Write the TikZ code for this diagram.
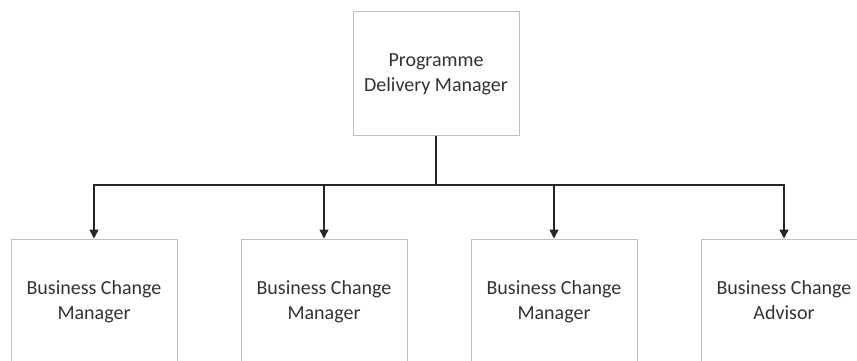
\documentclass[tikz,border=0pt]{standalone}
\usepackage{fontspec}
\setmainfont{Carlito}
\usetikzlibrary{arrows.meta}
\definecolor{boxline}{HTML}{BFBFBF}
\definecolor{linkline}{HTML}{262626}
\definecolor{labeltext}{HTML}{333333}
\begin{document}
\begin{tikzpicture}[x=1pt,y=-1pt,
  role/.style={draw=boxline, line width=1pt, fill=white, inner sep=0pt,
    minimum width=166pt, minimum height=124pt},
  rolename/.style={inner sep=0pt, align=center, text=labeltext,
    font=\fontsize{20}{25}\selectfont},
  link/.style={draw=linkline, line width=1.4pt},
  arr/.style={link, -{Triangle[length=9pt,width=9pt]}}]
\useasboundingbox (0,0) rectangle (857,360);
\clip (0,0) rectangle (857,360);
% head of the programme
\node[role] (pdm) at (436,73) {};
\node[rolename] (pdmname) at ([yshift=-3pt]pdm.center) {Programme\\Delivery Manager\strut};
% reporting roles
\node[role] (bcm1) at (94,301)  {};
\node[role] (bcm2) at (324,301) {};
\node[role] (bcm3) at (554,301) {};
\node[role] (bca)  at (784,301) {};
\node[rolename] (bcm1name) at ([yshift=-3pt]bcm1.center) {Business Change\\Manager\strut};
\node[rolename] (bcm2name) at ([yshift=-3pt]bcm2.center) {Business Change\\Manager\strut};
\node[rolename] (bcm3name) at ([yshift=-3pt]bcm3.center) {Business Change\\Manager\strut};
\node[rolename] (bcaname)  at ([yshift=-3pt]bca.center)  {Business Change\\Advisor\strut};
% branching connectors
\coordinate (bus) at (436,185);
\draw[link] (pdm.south) -- (bus);
\draw[arr] (bus) -| (bcm1.north);
\draw[arr] (bus) -| (bcm2.north);
\draw[arr] (bus) -| (bcm3.north);
\draw[arr] (bus) -| (bca.north);
\end{tikzpicture}
\end{document}
